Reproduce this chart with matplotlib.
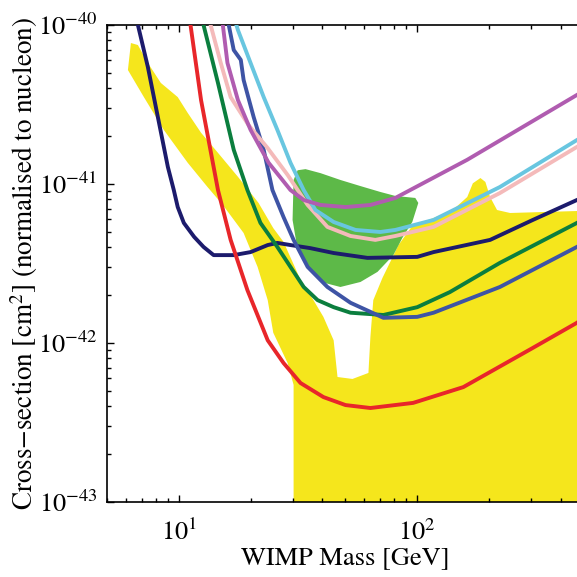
import matplotlib
matplotlib.use("Agg")
import matplotlib.pyplot as plt
from matplotlib.ticker import FixedLocator, LogLocator, NullFormatter

plt.rcParams["font.family"] = ["STIXGeneral", "DejaVu Serif"]
plt.rcParams["mathtext.fontset"] = "stix"

# limit curves: WIMP mass [GeV] and cross-section [cm^2]
navy_mass = [6.58, 6.74, 7.42, 8.17, 9.00, 9.53, 9.90, 10.5, 11.6, 12.7, 14.0, 17.0, 20.0, 23.6, 25.9, 29.4,
             35.6, 44.6, 61.8, 100, 117, 202, 305, 467, 500]
navy_sigma = [1.16e-40, 1.0e-40, 5.44e-41, 2.64e-41, 1.28e-41, 9.16e-42, 7.16e-42, 5.69e-42, 4.65e-42, 4.02e-42,
              3.57e-42, 3.57e-42, 3.73e-42, 4.13e-42, 4.26e-42, 4.13e-42, 3.95e-42, 3.68e-42, 3.43e-42, 3.48e-42,
              3.73e-42, 4.45e-42, 5.94e-42, 7.93e-42, 8.28e-42]

red_mass = [11.0, 11.2, 12.4, 14.6, 16.5, 19.4, 23.6, 27.5, 32.4, 40.4, 50.0, 63.6, 96.1, 156, 305, 467, 500]
red_sigma = [1.24e-40, 1.0e-40, 3.37e-41, 9.16e-42, 4.45e-42, 2.15e-42, 1.04e-42, 7.48e-43, 5.60e-43, 4.57e-43,
             4.07e-43, 3.90e-43, 4.20e-43, 5.28e-43, 9.31e-43, 1.34e-42, 1.44e-42]

green_mass = [12.3, 12.7, 14.6, 17.0, 19.4, 22.0, 25.9, 29.4, 33.4, 38.2, 44.6, 52.5, 72.1, 100, 137, 222, 467, 500]
green_sigma = [1.24e-40, 1.0e-40, 4.32e-41, 1.64e-41, 9.16e-42, 5.69e-42, 4.02e-42, 3.01e-42, 2.25e-42, 1.86e-42,
               1.68e-42, 1.55e-42, 1.50e-42, 1.68e-42, 2.09e-42, 3.19e-42, 5.69e-42, 6.03e-42]

blue_mass = [15.7, 16.2, 17.0, 18.2, 18.7, 20.6, 22.7, 24.7, 27.5, 30.3, 34.7, 42.0, 52.5, 72.1, 100, 117, 222,
             467, 500]
blue_sigma = [1.24e-40, 1.0e-40, 6.96e-41, 6.03e-41, 4.51e-41, 2.64e-41, 1.64e-41, 9.16e-42, 6.19e-42, 4.45e-42,
              3.01e-42, 2.25e-42, 1.79e-42, 1.44e-42, 1.46e-42, 1.55e-42, 2.25e-42, 4.02e-42, 4.26e-42]

cyan_mass = [16.7, 17.7, 20.0, 22.7, 25.9, 29.4, 33.4, 37.4, 44.6, 55.1, 70.0, 80.9, 117, 222, 467, 500]
cyan_sigma = [1.24e-40, 9.3e-41, 5.77e-41, 3.52e-41, 2.19e-41, 1.36e-41, 9.16e-42, 6.86e-42, 5.77e-42, 5.14e-42,
              4.99e-42, 5.14e-42, 5.94e-42, 9.57e-42, 1.89e-41, 2.0e-41]

pink_mass = [13.2, 13.6, 15.0, 16.5, 19.6, 23.6, 28.6, 34.7, 42.0, 52.5, 66.7, 80.9, 117, 222, 467, 500]
pink_sigma = [1.24e-40, 1.0e-40, 5.77e-41, 3.52e-41, 2.35e-41, 1.68e-41, 1.14e-41, 7.38e-42, 5.37e-42, 4.71e-42,
              4.45e-42, 4.71e-42, 5.37e-42, 8.77e-42, 1.71e-41, 1.81e-41]

magenta_mass = [14.9, 15.3, 16.0, 17.7, 20.0, 23.8, 29.4, 33.4, 39.3, 50.0, 63.6, 80.9, 162, 467, 500]
magenta_sigma = [1.24e-40, 1.0e-40, 5.77e-41, 3.37e-41, 2.19e-41, 1.36e-41, 9.16e-42, 7.93e-42, 7.38e-42, 7.16e-42,
                 7.38e-42, 8.17e-42, 1.42e-41, 3.63e-41, 3.85e-41]

# allowed regions (outlines)
green_region_mass = [30.3, 31.5, 34.0, 39.3, 47.6, 57.8, 70.0, 80.9, 98.1, 101, 95.3, 86.5, 79.4, 68.1, 57.8,
                     47.6, 41.2, 34.7, 31.5, 30.0]
green_region_sigma = [1.06e-41, 1.22e-41, 1.24e-41, 1.17e-41, 1.06e-41, 9.70e-42, 8.91e-42, 8.41e-42, 8.17e-42,
                      7.60e-42, 5.77e-42, 4.57e-42, 3.57e-42, 2.80e-42, 2.42e-42, 2.25e-42, 2.38e-42, 2.96e-42,
                      3.85e-42, 5.94e-42]

yellow_mass = [6.12, 6.30, 6.74, 7.42, 8.41, 9.90, 10.9, 12.4, 14.6, 17.7, 21.6, 24.9, 27.5, 30.0, 32.4, 36.7,
               40.4, 44.6, 46.3, 53.5, 62.4, 63.6, 65.4, 71.4, 83.4, 95.3, 117, 141, 162, 171, 184, 193, 202,
               216, 245, 467, 600, 600, 30.3, 30.3, 28.6, 24.9, 23.6, 21.4, 18.7, 15.3, 13.2, 10.9, 8.65, 7.14]
yellow_sigma = [5.21e-41, 7.70e-41, 7.48e-41, 5.77e-41, 4.32e-41, 3.52e-41, 2.80e-41, 2.10e-41, 1.57e-41,
                1.11e-41, 7.60e-42, 5.28e-42, 4.32e-42, 3.23e-42, 2.49e-42, 1.86e-42, 1.46e-42, 1.04e-42,
                6.11e-43, 5.94e-43, 6.48e-43, 1.09e-42, 1.86e-42, 2.56e-42, 4.13e-42, 5.45e-42, 6.11e-42,
                6.86e-42, 8.28e-42, 1.01e-41, 1.09e-41, 1.03e-41, 8.28e-42, 6.86e-42, 6.57e-42, 6.76e-42,
                6.76e-42, 1e-44, 1e-44, 5.45e-43, 7.48e-43, 1.16e-42, 1.86e-42, 3.01e-42, 4.92e-42, 7.38e-42,
                9.57e-42, 1.36e-41, 2.19e-41, 3.52e-41]

x_major = [10, 100]
y_major = [1e-43, 1e-42, 1e-41, 1e-40]

fig = plt.figure(figsize=(5.77, 5.77), dpi=100)
# axes run past the right border, as in the cropped original
ax = fig.add_axes([0.1854, 0.1300, 0.8267, 0.8267])

ax.fill(yellow_mass, yellow_sigma, color="#f5e61c", lw=0, zorder=1)
ax.fill(green_region_mass, green_region_sigma, color="#5db948", lw=0, zorder=2)

lw = 2.8
ax.plot(navy_mass, navy_sigma, color="#1c1b6c", lw=lw, zorder=3)
ax.plot(red_mass, red_sigma, color="#e8262a", lw=lw, zorder=3)
ax.plot(green_mass, green_sigma, color="#0b7e3e", lw=lw, zorder=3)
ax.plot(blue_mass, blue_sigma, color="#3e54a5", lw=lw, zorder=3)
ax.plot(pink_mass, pink_sigma, color="#f4baba", lw=lw, zorder=3)
ax.plot(cyan_mass, cyan_sigma, color="#68c6e0", lw=lw, zorder=3)
ax.plot(magenta_mass, magenta_sigma, color="#b05cb0", lw=lw, zorder=3)

ax.set_xscale("log")
ax.set_yscale("log")
ax.set_xlim(5, 500)
ax.set_ylim(1e-43, 1e-40)

# fixed majors so no labels sit outside the view
ax.xaxis.set_major_locator(FixedLocator(x_major))
ax.yaxis.set_major_locator(FixedLocator(y_major))
ax.xaxis.set_minor_locator(LogLocator(base=10, subs=range(2, 10), numticks=20))
ax.yaxis.set_minor_locator(LogLocator(base=10, subs=range(2, 10), numticks=20))
ax.xaxis.set_minor_formatter(NullFormatter())
ax.yaxis.set_minor_formatter(NullFormatter())

ax.tick_params(which="both", direction="in", top=True, right=False, labelsize=19, width=1)
ax.tick_params(which="major", length=5)
ax.tick_params(which="minor", length=3)
ax.tick_params(axis="x", which="major", pad=13)
ax.tick_params(axis="y", which="major", pad=7)
ax.spines["right"].set_visible(False)
for s in ("left", "bottom", "top"):
    ax.spines[s].set_linewidth(1.2)

ax.set_xlabel("WIMP Mass [GeV]", fontsize=19, labelpad=0)
ax.set_ylabel("Cross\u2212section [cm$^2$] (normalised to nucleon)", fontsize=19.5)
ax.yaxis.set_label_coords(-0.14, 0.5)

fig.savefig("out.png", dpi=100)
